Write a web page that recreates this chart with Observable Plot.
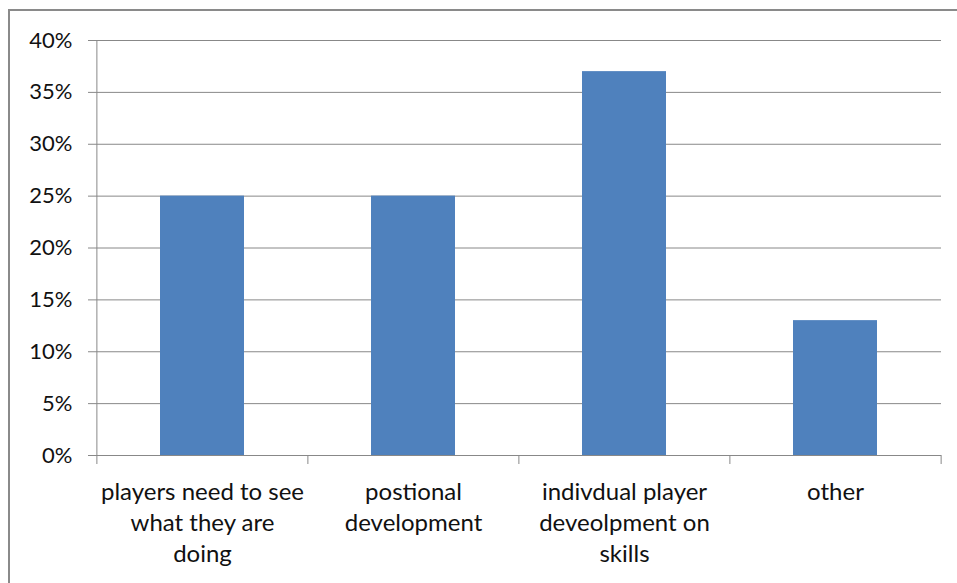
<!DOCTYPE html>
<html>
<head>
<meta charset="utf-8">
<script src="https://cdn.jsdelivr.net/npm/d3@7"></script>
<script src="https://cdn.jsdelivr.net/npm/@observablehq/plot@0.6"></script>
<style>
  html, body { margin: 0; padding: 0; background: #fff; }
  #wrap { position: relative; width: 957px; height: 583px; overflow: hidden; background: #fff; }
  #frame { position: absolute; left: 8px; top: 9px; width: 1000px; height: 700px; border: 2px solid #8a8a8a; box-sizing: border-box; }
  #chart { position: absolute; left: 0; top: 0; }
  svg { font-family: Lato, "Open Sans", sans-serif; }
</style>
</head>
<body>
<div id="wrap"><div id="frame"></div><div id="chart"></div></div>
<script>
const categories = [
  "players need to see what they are doing",
  "postional development",
  "indivdual player deveolpment on skills",
  "other"
];
const values = [25, 25, 37, 13];
const xLabels = [
  "players need to see\nwhat they are\ndoing",
  "postional\ndevelopment",
  "indivdual player\ndeveolpment on\nskills",
  "other"
];
const yTicks = [0, 5, 10, 15, 20, 25, 30, 35, 40];
const yTickLabels = ["0%", "5%", "10%", "15%", "20%", "25%", "30%", "35%", "40%"];

const data = categories.map((c, i) => ({category: c, value: values[i]}));

const W = 957, H = 583, ML = 96, MR = 16, MT = 40, MB = 128;
const step = (W - ML - MR) / categories.length;
const gridColor = "#888888";
const textColor = "#111111";
const labelOf = new Map(categories.map((c, i) => [c, xLabels[i]]));
const yLabelOf = new Map(yTicks.map((t, i) => [t, yTickLabels[i]]));

const plot = Plot.plot({
  width: W,
  height: H,
  marginLeft: ML,
  marginRight: MR,
  marginTop: MT,
  marginBottom: MB,
  style: {fontSize: "22px", color: textColor, background: "transparent"},
  x: {domain: categories, paddingInner: 0.6, paddingOuter: 0.3, axis: null, label: null},
  y: {domain: [0, 40], axis: null, label: null},
  marks: [
    Plot.gridY(yTicks, {stroke: gridColor, strokeOpacity: 1, strokeWidth: 1}),
    Plot.barY(data, {x: "category", y: "value", fill: "#4F81BD"}),
    Plot.ruleY([0], {stroke: gridColor, strokeWidth: 1}),
    Plot.ruleX([categories[0]], {dx: -step / 2, stroke: gridColor, strokeWidth: 1}),
    Plot.axisY(yTicks, {
      label: null, tickSize: 8, tickPadding: 16, stroke: gridColor,
      tickFormat: d => yLabelOf.get(d), fontSize: 22, fill: textColor
    }),
    Plot.axisX(categories, {label: null, tickSize: 9, tickFormat: () => "", dx: -step / 2, stroke: gridColor}),
    Plot.axisX([categories[categories.length - 1]], {label: null, tickSize: 9, tickFormat: () => "", dx: step / 2, stroke: gridColor}),
    Plot.axisX(categories, {
      label: null, tickSize: 0, tickPadding: 22, tickFormat: d => labelOf.get(d),
      lineHeight: 1.3, fontSize: 24, fill: textColor
    })
  ]
});
document.getElementById("chart").appendChild(plot);
</script>
</body>
</html>
